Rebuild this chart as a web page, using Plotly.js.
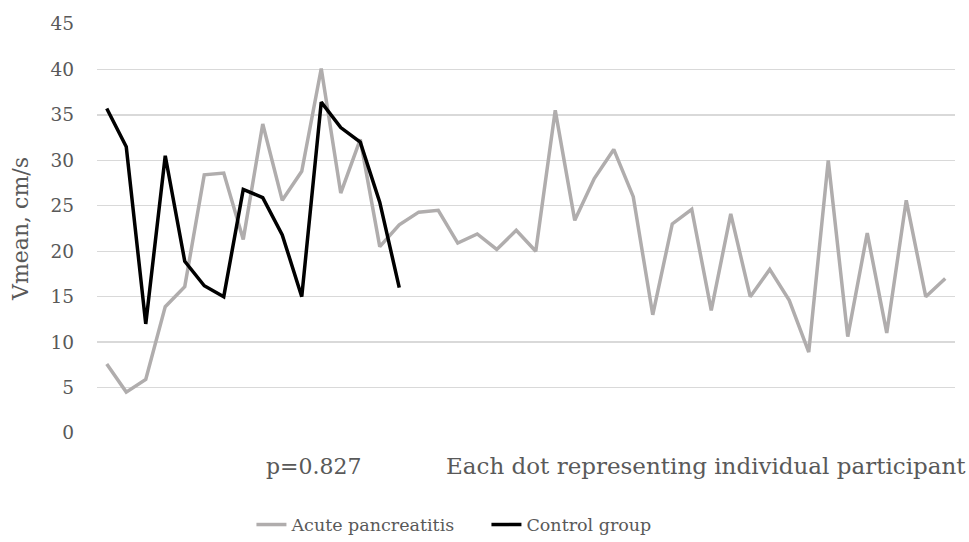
<!DOCTYPE html>
<html>
<head>
<meta charset="utf-8">
<script src="https://cdn.plot.ly/plotly-3.0.1.min.js"></script>
<style>html,body{margin:0;padding:0;background:#fff;}#chart{width:969px;height:542px;}</style>
</head>
<body>
<div id="chart"></div>
<script>
const seriesNames = ["Acute pancreatitis", "Control group"];
const acutePancreatitis = [7.6, 4.5, 5.9, 13.9, 16.1, 28.4, 28.6, 21.3, 34.0, 25.6, 28.8, 40.1, 26.4, 32.3, 20.5, 22.9,
  24.3, 24.5, 20.9, 21.9, 20.2, 22.3, 20.0, 35.5, 23.4, 28.0, 31.2, 26.0, 13.0, 23.0, 24.6, 13.5,
  24.1, 15.0, 18.0, 14.6, 8.9, 30.0, 10.6, 22.0, 11.0, 25.6, 15.0, 17.0];
const controlGroup = [35.7, 31.5, 12.0, 30.5, 18.9, 16.2, 15.0, 26.8, 25.9, 21.8, 15.0, 36.4, 33.6, 32.0, 25.4, 16.0];
const yTicks = [0, 5, 10, 15, 20, 25, 30, 35, 40, 45];
const yTitle = "Vmean, cm/s";
const noteP = "p=0.827";
const noteDots = "Each dot representing individual participant";

const font = "DejaVu Serif";
const idx = arr => arr.map((v, i) => i + 1);

const traces = [
  {x: idx(acutePancreatitis), y: acutePancreatitis, name: seriesNames[0], type: "scatter", mode: "lines",
   line: {color: "#B0ADAD", width: 3.5}},
  {x: idx(controlGroup), y: controlGroup, name: seriesNames[1], type: "scatter", mode: "lines",
   line: {color: "#000000", width: 3.5}}
];

const layout = {
  width: 969, height: 542,
  margin: {l: 97, r: 14, t: 24, b: 109},
  paper_bgcolor: "#fff", plot_bgcolor: "#fff",
  font: {family: font, color: "#595959", size: 17},
  showlegend: true,
  legend: {orientation: "h", x: 0.18, xanchor: "left", yref: "container", y: 0.032, yanchor: "middle",
           font: {family: font, size: 17.5, color: "#595959"}, traceorder: "normal",
           tracegroupgap: 0, entrywidth: 190},
  xaxis: {range: [0.5, acutePancreatitis.length + 0.5], showticklabels: false, showgrid: false,
          zeroline: false, showline: false, ticks: ""},
  yaxis: {range: [0, 45], tickvals: yTicks, showgrid: true, gridcolor: "#D9D9D9", gridwidth: 1.3,
          zeroline: false, showline: false, ticks: "", ticklabelstandoff: 22,
          tickfont: {family: font, size: 18.5, color: "#595959"},
          title: {text: yTitle, font: {family: font, size: 22, color: "#595959"}, standoff: 15}},
  annotations: [
    {xref: "paper", yref: "paper", x: 0.253, y: -0.081, text: noteP, showarrow: false,
     font: {family: font, size: 22, color: "#595959"}, xanchor: "center", yanchor: "middle"},
    {xref: "paper", yref: "paper", x: 1.015, y: -0.081, text: noteDots, showarrow: false,
     font: {family: font, size: 23, color: "#595959"}, xanchor: "right", yanchor: "middle"}
  ]
};

Plotly.newPlot("chart", traces, layout, {displayModeBar: false, staticPlot: true});
</script>
</body>
</html>
